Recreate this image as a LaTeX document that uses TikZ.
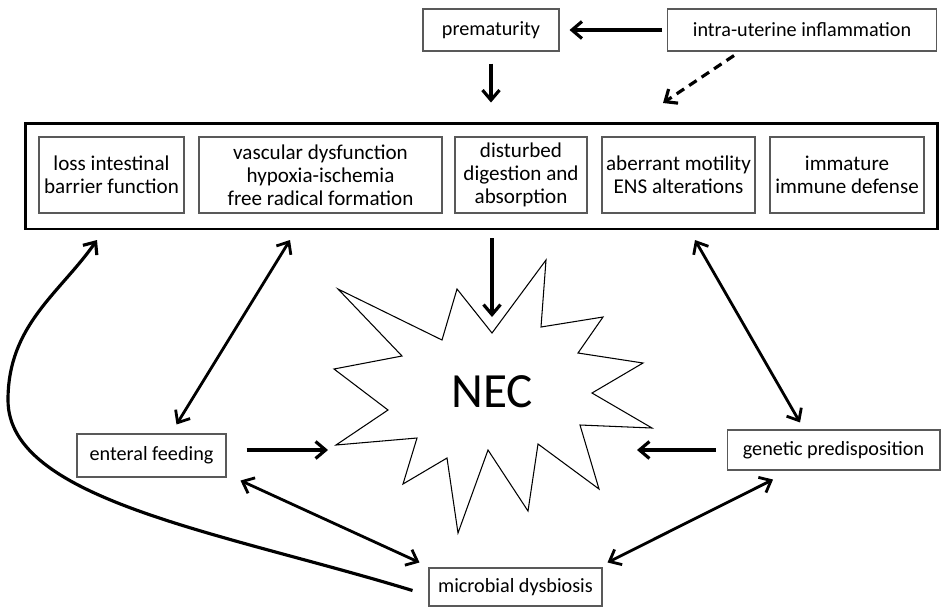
\documentclass[tikz,border=0pt]{standalone}
\usepackage{fontspec}
\setmainfont{Carlito}
\usetikzlibrary{arrows.meta}

\tikzset{
  factor/.style={draw=black!65, line width=0.8pt, align=center, inner sep=0pt,
    minimum height=1.52cm, font=\fontsize{12}{13.2}\selectfont},
  outer/.style={draw=black!65, line width=0.6pt, inner sep=0pt,
    minimum height=0.84cm, font=\fontsize{11.5}{13}\selectfont},
  link/.style={line width=1.8pt, -{Straight Barb[length=2mm,width=3.4mm]}},
  both/.style={link, line width=1.6pt, {Straight Barb[length=2mm,width=3.4mm]}-{Straight Barb[length=2mm,width=3.4mm]}},
}

\begin{document}
\begin{tikzpicture}[x=0.02cm, y=-0.02cm]
  \useasboundingbox (0,0) rectangle (942,606);

  %% prematurity and inflammation
  \node[outer, minimum width=2.72cm] (prem) at (491,30) {prematurity};
  \node[outer, minimum width=5.38cm] (intra) at (802,30) {intra-uterine inflammation};

  %% the big box with the gut factors
  \node[draw, line width=1.7pt, minimum width=18.26cm, minimum height=2.12cm] (big) at (481.5,176) {};
  \node[factor, minimum width=2.9cm] (loss) at (111.5,175) {loss intestinal\\barrier function};
  \node[factor, minimum width=4.86cm] (vasc) at (320.5,175) {vascular dysfunction\\hypoxia-ischemia\\free radical formation};
  \node[factor, minimum width=2.64cm] (dig) at (521,175) {disturbed\\digestion and\\absorption};
  \node[factor, minimum width=3.06cm] (mot) at (678.5,175) {aberrant motility\\ENS alterations};
  \node[factor, minimum width=3.08cm] (imm) at (847,175) {immature\\immune defense};

  %% NEC
  \draw[line width=0.6pt, fill=white] (546,260) -- (492,333) -- (457,289) -- (442,340) -- (338,289)
    -- (402,356) -- (334,369) -- (388,410) -- (336,445) -- (417,438) -- (403,484) -- (447,458)
    -- (458,533) -- (488,450) -- (528,511) -- (538,444) -- (599,489) -- (580,425) -- (652,428)
    -- (592,393) -- (643,363) -- (578,353) -- (603,317) -- (541,327) -- cycle;
  \node[font=\fontsize{28}{30}\selectfont] (nec) at (492,392) {NEC};
  \coordinate (necN) at (492,317);
  \coordinate (necW) at (328,450);
  \coordinate (necE) at (637,450);

  %% the other factors
  \node[outer, minimum width=2.98cm, minimum height=0.86cm] (feed) at (151.5,455.5) {enteral feeding};
  \node[outer, minimum width=4.26cm, minimum height=0.8cm] (gen) at (833.5,450) {genetic predisposition};
  \node[outer, minimum width=3.46cm, minimum height=0.76cm] (micro) at (515.5,587) {microbial dysbiosis};

  %% ends on the big box
  \coordinate (bigA) at (97,240);
  \coordinate (bigB) at (290,240);
  \coordinate (bigD) at (695,240);
  \coordinate (bigT) at (663,103);

  %% arrows
  \draw[link, shorten <=0.1cm, shorten >=0.2cm] (intra.west) -- (prem.east);
  \draw[link, shorten <=0.24cm, shorten >=0.38cm] (prem.south) -- (prem.south |- big.north);
  \draw[link, dash pattern=on 0.18cm off 0.12cm] ([xshift=1.34cm,yshift=-0.08cm]intra.south west) -- (bigT);
  \draw[link, shorten <=0.16cm] (big.south -| necN) -- (necN);
  \draw[link, shorten <=0.4cm] (feed.east |- necW) -- (necW);
  \draw[link, shorten <=0.22cm] (gen.west |- necE) -- (necE);
  \draw[both] ([xshift=0.5cm,yshift=0.18cm]feed.north) -- (bigB);
  \draw[both] ([xshift=-0.67cm,yshift=0.14cm]gen.north) -- (bigD);
  \draw[both] ([xshift=0.28cm,yshift=-0.06cm]feed.south east) -- ([xshift=-0.18cm,yshift=0.1cm]micro.north west);
  \draw[both] ([xshift=-1.21cm,yshift=-0.18cm]gen.south) -- ([xshift=0.1cm,yshift=0.1cm]micro.north east);
  \draw[link] ([xshift=-0.32cm,yshift=-0.07cm]micro.west) to[out=163,in=270,out distance=4cm,in distance=2cm] (8,400)
    to[out=90,in=235,out distance=1.5cm,in distance=1.3cm] (bigA);
\end{tikzpicture}
\end{document}
